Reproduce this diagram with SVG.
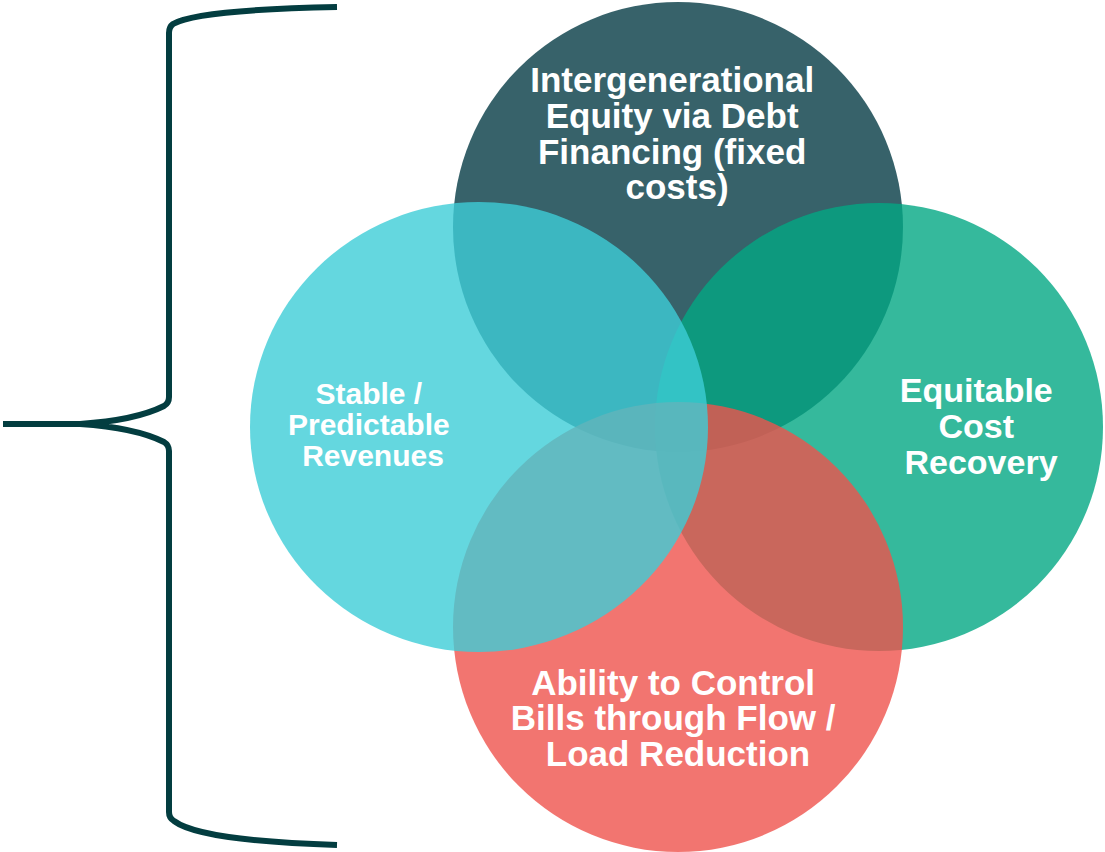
<svg xmlns="http://www.w3.org/2000/svg" width="1105" height="852" viewBox="0 0 1105 852">
  <style>
    .disc { fill-opacity: 0.8; stroke: none; }
    .label { font-family: "Liberation Sans", Arial, sans-serif; font-weight: bold; fill: #ffffff; text-anchor: middle; }
    .brace { fill: none; stroke: #033D40; stroke-width: 6; stroke-linecap: butt; stroke-linejoin: round; }
  </style>
  <rect width="1105" height="852" fill="#ffffff"/>

  <!-- connectors: the curly brace on the left -->
  <g id="connectors">
    <path class="brace" d="M 337,7 C 240,9 188,15 173,24 Q 169,27 169,33 L 169,397 Q 169,403 164,406 C 140,418 110,422 80,424 L 3,424 M 80,424 C 110,426 140,430 164,442 Q 169,445 169,451 L 169,812 Q 169,818 174,821 C 190,833 240,842 337,845"/>
  </g>

  <!-- top circle -->
  <g id="node-intergenerational">
    <circle class="disc" cx="678" cy="227" r="225" fill="#053B45"/>
    <text class="label" font-size="35">
      <tspan x="677" y="92">Intergenerational</tspan>
      <tspan x="677" y="128">Equity via Debt</tspan>
      <tspan x="677" y="164">Financing (fixed</tspan>
      <tspan x="677" y="199">costs)</tspan>
    </text>
  </g>

  <!-- right circle -->
  <g id="node-equitable">
    <circle class="disc" cx="879" cy="427" r="224" fill="#03A883"/>
    <text class="label" font-size="34">
      <tspan x="981" y="402">Equitable</tspan>
      <tspan x="981" y="438">Cost</tspan>
      <tspan x="981" y="474">Recovery</tspan>
    </text>
  </g>

  <!-- bottom circle -->
  <g id="node-ability">
    <circle class="disc" cx="678" cy="627" r="225" fill="#EF524C"/>
    <text class="label" font-size="35">
      <tspan x="678" y="695">Ability to Control</tspan>
      <tspan x="678" y="730">Bills through Flow /</tspan>
      <tspan x="678" y="766">Load Reduction</tspan>
    </text>
  </g>

  <!-- left circle -->
  <g id="node-stable">
    <ellipse class="disc" cx="479" cy="427" rx="229" ry="225" fill="#3DCDD7"/>
    <text class="label" font-size="30">
      <tspan x="373" y="404">Stable /</tspan>
      <tspan x="373" y="435">Predictable</tspan>
      <tspan x="373" y="466">Revenues</tspan>
    </text>
  </g>
</svg>
